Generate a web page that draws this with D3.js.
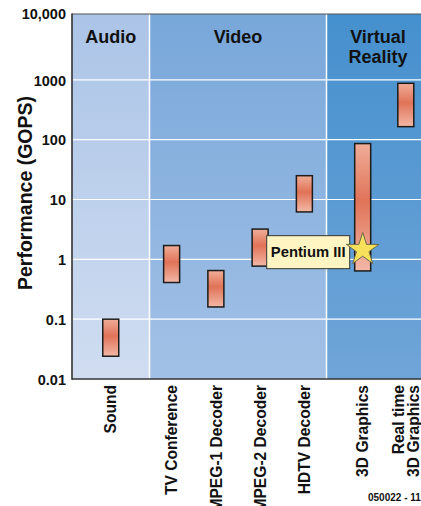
<!DOCTYPE html>
<html>
<head>
<meta charset="utf-8">
<script src="https://cdn.jsdelivr.net/npm/d3@7/dist/d3.min.js"></script>
<style>
  html, body { margin: 0; padding: 0; background: #ffffff; }
  svg { display: block; font-family: "Liberation Sans", Arial, Helvetica, sans-serif; }
</style>
</head>
<body>
<div id="chart"></div>
<script>
// ---------------- data ----------------
const groups = ["Audio", "Video", "Virtual Reality"];
const categories = ["Sound", "TV Conference", "MPEG-1 Decoder", "MPEG-2 Decoder", "HDTV Decoder", "3D Graphics", "Real time\n3D Graphics"];
const categoryGroup = ["Audio", "Video", "Video", "Video", "Video", "Virtual Reality", "Virtual Reality"];
const lowValues  = [0.024, 0.41, 0.16, 0.77, 6.2, 0.64, 165];
const highValues = [0.1,   1.7,  0.65, 3.2,  25,  86,   875];
const tickValues = [0.01, 0.1, 1, 10, 100, 1000, 10000];
const tickLabels = ["0.01", "0.1", "1", "10", "100", "1000", "10,000"];
const markerLabel = "Pentium III";
const markerCategory = "3D Graphics";
const markerValue = 1.45;
const yTitle = "Performance (GOPS)";
const footnote = "050022 - 11";

// ---------------- layout ----------------
const W = 421, H = 506;
const plotLeft = 72, plotBottom = 379, plotTop = 14, plotRight = 421;
const groupEdges = [72, 149.5, 326.5, 442];      // band boundaries (pixels)
const groupPadding = [0.5, 0.5, 0.84];
const groupColors = [
  ["#abc4e7", "#d0ddf1"],
  ["#78a7da", "#a3c1e6"],
  ["#4590ce", "#70a5d8"]
];

const svg = d3.select("#chart").append("svg").attr("width", W).attr("height", H);
const defs = svg.append("defs");

groupColors.forEach((c, i) => {
  const g = defs.append("linearGradient").attr("id", "band" + i)
    .attr("x1", 0).attr("y1", 0).attr("x2", 0).attr("y2", 1);
  g.append("stop").attr("offset", "0%").attr("stop-color", c[0]);
  g.append("stop").attr("offset", "100%").attr("stop-color", c[1]);
});
const bg = defs.append("linearGradient").attr("id", "barGrad")
  .attr("x1", 0).attr("y1", 0).attr("x2", 0).attr("y2", 1);
bg.append("stop").attr("offset", "0%").attr("stop-color", "#f0ad98");
bg.append("stop").attr("offset", "45%").attr("stop-color", "#e07358");
bg.append("stop").attr("offset", "100%").attr("stop-color", "#f3b8a6");

// scales
const y = d3.scaleLog().domain([0.01, 10000]).range([plotBottom, 20]);

const xPos = {};
groups.forEach((g, gi) => {
  const cats = categories.filter((c, i) => categoryGroup[i] === g);
  const s = d3.scalePoint().domain(cats).range([groupEdges[gi], groupEdges[gi + 1]]).padding(groupPadding[gi]);
  cats.forEach(c => xPos[c] = s(c));
});

// bands
svg.selectAll("rect.band").data(groups).enter().append("rect")
  .attr("class", "band")
  .attr("x", (d, i) => groupEdges[i])
  .attr("y", plotTop)
  .attr("width", (d, i) => groupEdges[i + 1] - groupEdges[i])
  .attr("height", plotBottom - plotTop)
  .attr("fill", (d, i) => `url(#band${i})`);

// gridlines
svg.selectAll("line.grid").data(tickValues.slice(1, -1)).enter().append("line")
  .attr("x1", plotLeft).attr("x2", plotRight)
  .attr("y1", d => y(d)).attr("y2", d => y(d))
  .attr("stroke", "#ffffff").attr("stroke-width", 1.2);

// separators
svg.selectAll("line.sep").data(groupEdges.slice(1, -1)).enter().append("line")
  .attr("x1", d => d).attr("x2", d => d)
  .attr("y1", plotTop).attr("y2", plotBottom)
  .attr("stroke", "#ffffff").attr("stroke-width", 1.5);

// group titles
groups.forEach((g, gi) => {
  const cx = (groupEdges[gi] + Math.min(groupEdges[gi + 1], 430)) / 2;
  const words = g === "Virtual Reality" ? ["Virtual", "Reality"] : [g];
  const center = gi === 2 ? 378 : cx;
  words.forEach((w, wi) => {
    svg.append("text")
      .attr("x", center).attr("y", 43 + wi * 19.5)
      .attr("text-anchor", "middle")
      .attr("font-size", 18).attr("font-weight", "bold").attr("fill", "#111")
      .text(w);
  });
});

// bars
const barW = 16;
const barData = categories.map((c, i) => ({ c, lo: lowValues[i], hi: highValues[i] }));
svg.selectAll("rect.bar").data(barData).enter().append("rect")
  .attr("class", "bar")
  .attr("x", d => xPos[d.c] - barW / 2)
  .attr("y", d => y(d.hi))
  .attr("width", barW)
  .attr("height", d => y(d.lo) - y(d.hi))
  .attr("fill", "url(#barGrad)")
  .attr("stroke", "#1c1c1c").attr("stroke-width", 1.5);

// marker (Pentium III)
const mx = xPos[markerCategory], my = y(markerValue);
svg.append("rect")
  .attr("x", mx - 96).attr("y", my - 14)
  .attr("width", 83).attr("height", 33)
  .attr("fill", "#fff5c2").attr("stroke", "#333").attr("stroke-width", 1);
svg.append("text")
  .attr("x", mx - 54.5).attr("y", my + 2.5)
  .attr("text-anchor", "middle").attr("dominant-baseline", "central")
  .attr("font-size", 14.8).attr("font-weight", "bold").attr("fill", "#111")
  .text(markerLabel);
svg.append("path")
  .attr("d", d3.symbol(d3.symbolStar, 330)())
  .attr("transform", `translate(${mx},${my})`)
  .attr("fill", "#f8e15a").attr("stroke", "#6a6a4a").attr("stroke-width", 1);

// axes lines
svg.append("line").attr("x1", plotLeft).attr("x2", plotRight).attr("y1", plotTop).attr("y2", plotTop)
  .attr("stroke", "#555").attr("stroke-width", 1.2);
svg.append("line").attr("x1", plotLeft).attr("x2", plotLeft).attr("y1", plotTop - 0.6).attr("y2", plotBottom + 0.8)
  .attr("stroke", "#333").attr("stroke-width", 1.6);
svg.append("line").attr("x1", plotLeft).attr("x2", plotRight).attr("y1", plotBottom).attr("y2", plotBottom)
  .attr("stroke", "#333").attr("stroke-width", 1.6);

// y axis ticks
const yAxis = d3.axisLeft(y).tickValues(tickValues)
  .tickFormat((d, i) => tickLabels[i]).tickSize(0).tickPadding(6);
const ya = svg.append("g").attr("transform", `translate(${plotLeft},0)`).call(yAxis);
ya.select(".domain").remove();
ya.selectAll("text")
  .attr("font-size", 14.5).attr("font-weight", "bold").attr("fill", "#111")
  .attr("font-family", "'Liberation Sans', Arial, sans-serif")
  .attr("dy", "0.36em");
ya.selectAll(".tick").filter(d => d === 10000)
  .attr("transform", `translate(0,${plotTop})`);

// y title
svg.append("text")
  .attr("transform", `translate(25,193) rotate(-90)`)
  .attr("text-anchor", "middle").attr("dominant-baseline", "central")
  .attr("font-size", 19.5).attr("font-weight", "bold").attr("fill", "#111")
  .text(yTitle);

// category labels
categories.forEach(c => {
  const lines = c.split("\n");
  lines.forEach((ln, li) => {
    const off = (li - (lines.length - 1) / 2) * 15;
    svg.append("text")
      .attr("transform", `translate(${xPos[c] + off},385) rotate(-90)`)
      .attr("text-anchor", "end").attr("dy", "0.36em")
      .attr("font-size", 15.6).attr("font-weight", "bold").attr("fill", "#111")
      .text(ln);
  });
});

// footnote
svg.append("text")
  .attr("x", 368).attr("y", 501)
  .attr("font-size", 10).attr("font-weight", "bold").attr("fill", "#111")
  .text(footnote);
</script>
</body>
</html>
